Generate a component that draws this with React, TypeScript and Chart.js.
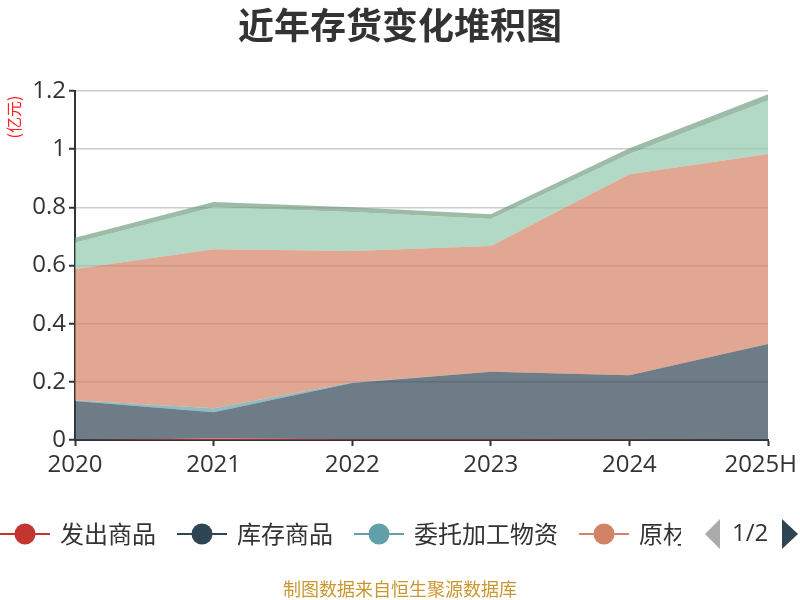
import { useEffect, useRef } from 'react';
import { Chart, registerables } from 'chart.js';
Chart.register(...registerables);

const titleText = '近年存货变化堆积图';
const unitText = '(亿元)';
const footerText = '制图数据来自恒生聚源数据库';
const categories = ['2020', '2021', '2022', '2023', '2024', '2025H'];
const faChuShangPin = [0, 0.005, 0.003, 0.003, 0.002, 0];
const kuCunShangPin = [0.134, 0.09, 0.193, 0.232, 0.221, 0.33];
const weiTuoJiaGong = [0.003, 0.014, 0.002, 0, 0, 0];
const yuanCaiLiao = [0.451, 0.547, 0.452, 0.432, 0.691, 0.653];
const zaiChanPin = [0.09, 0.144, 0.134, 0.093, 0.069, 0.184];
const zhouZhuanCaiLiao = [0.017, 0.018, 0.016, 0.016, 0.02, 0.022];
const seriesNames = ['发出商品', '库存商品', '委托加工物资', '原材料', '在产品', '周转材料'];
const seriesValues = [faChuShangPin, kuCunShangPin, weiTuoJiaGong, yuanCaiLiao, zaiChanPin, zhouZhuanCaiLiao];
const seriesColors = ['#c23531', '#2f4554', '#61a0a8', '#d48265', '#91c7ae', '#749f83'];
const legendVisibleCount = 4;
const yMin = 0;
const yMax = 1.2;
const yStep = 0.2;

const FONT = '"Noto Sans CJK SC", "Noto Sans", sans-serif';
const TICK_FONT = '"Open Sans", "Noto Sans", sans-serif';

function hexToRgba(hex: string, a: number) {
  const n = parseInt(hex.slice(1), 16);
  return `rgba(${(n >> 16) & 255},${(n >> 8) & 255},${n & 255},${a})`;
}

// keep the last x label inside the canvas (as the reference does)
const lastLabelFitPlugin = {
  id: 'lastLabelFit',
  beforeDraw(chart: any) {
    const scale = chart.scales.x;
    const items = scale.getLabelItems(chart.chartArea);
    const last = items[items.length - 1];
    if (last && !last.__shifted) {
      const ctx = chart.ctx as CanvasRenderingContext2D;
      ctx.save();
      ctx.font = `24px ${TICK_FONT}`;
      const w = ctx.measureText(String(last.label)).width;
      ctx.restore();
      const overflow = last.options.translation[0] + w / 2 - (chart.width - 3);
      if (overflow > 0) last.options.translation[0] -= overflow;
      last.__shifted = true;
    }
  },
};

const overlayPlugin = {
  id: 'overlay',
  afterDraw(chart: any) {
    const ctx = chart.ctx as CanvasRenderingContext2D;
    ctx.save();
    // title
    ctx.font = `bold 36px ${FONT}`;
    ctx.fillStyle = '#333';
    ctx.textAlign = 'center';
    ctx.textBaseline = 'middle';
    ctx.fillText(titleText, 400, 25);
    // unit label
    ctx.save();
    ctx.translate(14, 117);
    ctx.rotate(-Math.PI / 2);
    ctx.font = `16px ${FONT}`;
    ctx.fillStyle = '#ff2020';
    ctx.fillText(unitText, 0, 0);
    ctx.restore();
    // legend
    ctx.save();
    ctx.beginPath();
    ctx.rect(0, 500, 681, 70);
    ctx.clip();
    const ly = 534;
    let x = 0;
    ctx.font = `24px ${FONT}`;
    ctx.textAlign = 'left';
    for (let i = 0; i < legendVisibleCount; i++) {
      const c = seriesColors[i];
      ctx.strokeStyle = c;
      ctx.lineWidth = 2;
      ctx.beginPath();
      ctx.moveTo(x, ly);
      ctx.lineTo(x + 50, ly);
      ctx.stroke();
      ctx.fillStyle = c;
      ctx.beginPath();
      ctx.arc(x + 25, ly, 10.5, 0, Math.PI * 2);
      ctx.fill();
      ctx.fillStyle = '#333';
      ctx.fillText(seriesNames[i], x + 60, ly);
      x += 60 + ctx.measureText(seriesNames[i]).width + 21;
    }
    ctx.restore();
    // pager
    ctx.fillStyle = '#aaa';
    ctx.beginPath();
    ctx.moveTo(705, ly);
    ctx.lineTo(720, ly - 15);
    ctx.lineTo(720, ly + 15);
    ctx.closePath();
    ctx.fill();
    ctx.fillStyle = '#333';
    ctx.font = `24px ${TICK_FONT}`;
    ctx.textAlign = 'left';
    ctx.fillText('1/2', 732, ly);
    ctx.fillStyle = '#2f4554';
    ctx.beginPath();
    ctx.moveTo(782, ly - 15);
    ctx.lineTo(798, ly);
    ctx.lineTo(782, ly + 15);
    ctx.closePath();
    ctx.fill();
    // footer
    ctx.font = `18px ${FONT}`;
    ctx.fillStyle = '#c9972f';
    ctx.textAlign = 'center';
    ctx.fillText(footerText, 400, 589);
    ctx.restore();
  },
};

export default function App() {
  const ref = useRef<HTMLCanvasElement>(null);
  useEffect(() => {
    document.body.style.margin = '0';
    const datasets = seriesNames.map((name, i) => ({
      label: name,
      data: seriesValues[i],
      borderWidth: 0,
      borderColor: seriesColors[i],
      backgroundColor: hexToRgba(seriesColors[i], 0.7),
      pointRadius: 0,
      tension: 0,
      fill: i === 0 ? 'origin' : '-1',
    }));
    const chart = new Chart(ref.current!, {
      type: 'line',
      data: { labels: categories, datasets },
      plugins: [lastLabelFitPlugin, overlayPlugin],
      options: {
        animation: false,
        responsive: false,
        devicePixelRatio: 1,
        layout: { padding: { left: 0, right: 32, top: 91, bottom: 115 } },
        plugins: {
          legend: { display: false },
          title: { display: false },
          tooltip: { enabled: false },
        },
        scales: {
          x: {
            type: 'category',
            offset: false,
            afterFit: (s: any) => {
              s.height = 45;
              s.paddingLeft = 0;
              s.paddingRight = 0;
            },
            grid: {
              drawOnChartArea: false,
              drawTicks: true,
              tickLength: 6,
              tickColor: '#333',
              tickWidth: 2,
            },
            border: { display: true, color: '#333', width: 2 },
            ticks: {
              color: '#333',
              font: { family: TICK_FONT, size: 24 },
              padding: 5,
              maxRotation: 0,
              autoSkip: false,
            },
          },
          y: {
            stacked: true,
            min: yMin,
            max: yMax,
            afterFit: (s: any) => {
              s.width = 75;
              s.paddingTop = 0;
              s.paddingBottom = 0;
            },
            grid: {
              color: '#cccccc',
              lineWidth: 1.5,
              drawTicks: true,
              tickLength: 6,
              tickColor: '#333',
              tickWidth: 2,
            },
            border: { display: true, color: '#333', width: 2 },
            ticks: {
              stepSize: yStep,
              color: '#333',
              font: { family: TICK_FONT, size: 24 },
              padding: 3,
              callback: (v: any) => String(Number(Number(v).toFixed(1))),
            },
          },
        },
      },
    });
    return () => chart.destroy();
  }, []);
  return (
    <div style={{ width: 800, height: 600 }}>
      <canvas ref={ref} width={800} height={600} style={{ display: 'block' }} />
    </div>
  );
}
